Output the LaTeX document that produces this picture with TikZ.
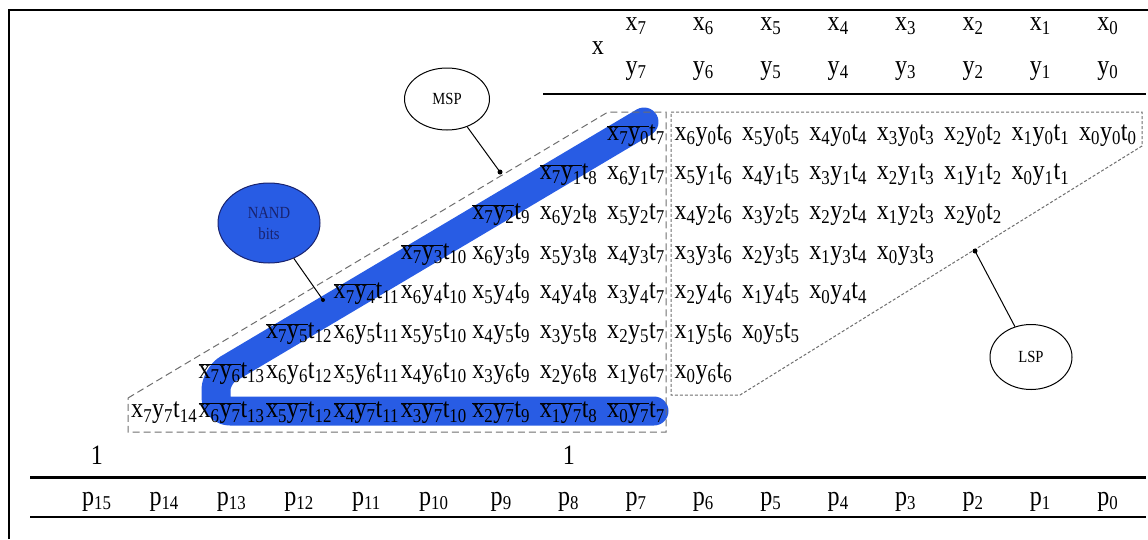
\documentclass[tikz,border=0pt]{standalone}
\usepackage{fontspec}
\setmainfont[FakeStretch=0.86]{Liberation Serif}
\usetikzlibrary{shapes.geometric}
\definecolor{bandblue}{RGB}{40,92,228}
\definecolor{navy}{RGB}{25,35,110}
\definecolor{dashgray}{RGB}{110,110,110}
\newcommand\pp[3]{x\textsubscript{#1}y\textsubscript{#2}t\textsubscript{#3}}
\newcommand\pn[3]{$\overline{\mbox{x\textsubscript{#1}y\textsubscript{#2}}}$t\textsubscript{#3}}
\begin{document}
\begin{tikzpicture}[x=1pt,y=-1pt,
  every node/.style={inner sep=0pt},
  big/.style={font=\fontsize{28}{30}\selectfont, anchor=base},
  lab/.style={ellipse, draw, line width=1pt, font=\fontsize{17}{19}\selectfont, align=center},
  msp/.style={dashgray, line width=1pt, dash pattern=on 7pt off 4pt},
  lsp/.style={dashgray, line width=1pt, dash pattern=on 3pt off 2pt},
  ptr/.style={line width=1pt},
  band/.style={bandblue, line width=29pt, line cap=round, line join=round, rounded corners=14pt}]
\useasboundingbox (0,0) rectangle (1148,539);
% frame
\draw[line width=2pt] (9,539) -- (9,10) -- (1148,10);
% blue band
\draw[band] (644,122) -- (216,376) -- (216,411) -- (654,411);
% MSP region
\draw[msp] (128,398) -- (608,112) -- (666,112) -- (666,432) -- (128,432) -- cycle;
% LSP region
\draw[lsp] (671,112) -- (1142,112) -- (1142,146) -- (740,395) -- (671,395) -- cycle;
% header
\node[big] (xlab) at (598,54) {x};
\foreach \i in {0,...,7}{
  \pgfmathsetmacro\xx{636+(7-\i)*67.4}
  \node[big] (hx\i) at (\xx,30) {x\textsubscript{\i}};
  \node[big] (hy\i) at (\xx,74) {y\textsubscript{\i}};
}
\draw[line width=2.5pt] (543,94) -- (1146,94);
% partial products
\foreach \r in {0,...,7}{
  \foreach \j in {0,...,7}{
    \pgfmathtruncatemacro\w{\j+\r}
    \pgfmathsetmacro\xx{636+(7-\w)*67.4}
    \pgfmathsetmacro\yy{140+\r*39.7}
    \ifnum\r=7
      \ifnum\j=7 \def\lab{\pp{7}{7}{14}}\else\def\lab{\pn{\j}{\r}{\w}}\fi
    \else
      \ifnum\j=7 \def\lab{\pn{\j}{\r}{\w}}\else\def\lab{\pp{\j}{\r}{\w}}\fi
    \fi
    \ifnum\r=2 \ifnum\j=0 \def\lab{\pp{2}{0}{2}}\fi\fi
    \node[big] (m\r\j) at (\xx,\yy) {\lab};
  }
}
% ellipses and pointers
\node[lab, minimum width=85pt, minimum height=62pt] (mspn) at (447,99) {MSP};
\node[lab, draw=navy, fill=bandblue, text=navy, minimum width=102pt, minimum height=80pt] (nandn) at (269,223) {NAND\\[2pt]bits};
\node[lab, minimum width=82pt, minimum height=65pt] (lspn) at (1031,357) {LSP};
\coordinate (mspdot) at (500,172);
\coordinate (nanddot) at (323,300);
\coordinate (lspdot) at (975,251);
\draw[ptr] (mspn) -- (mspdot);
\draw[ptr] (nandn) -- (nanddot);
\draw[ptr] (lspn) -- (lspdot);
\fill (mspdot) circle (2.5pt);
\fill (nanddot) circle (2pt);
\fill (lspdot) circle (2.5pt);
% carry ones
\node[big] (one15) at (97,464) {1};
\node[big] (one8) at (569,464) {1};
% result row
\draw[line width=3pt] (30,477) -- (1146,477);
\foreach \i in {0,...,15}{
  \pgfmathsetmacro\xx{636+(7-\i)*67.4}
  \node[big] (p\i) at (\xx,505) {p\textsubscript{\i}};
}
\draw[line width=2.5pt] (30,517) -- (1146,517);
\end{tikzpicture}
\end{document}
